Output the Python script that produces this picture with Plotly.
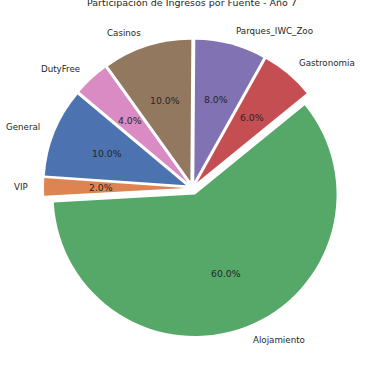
import math
import plotly.graph_objects as go

# ---- data ----
categories = ["General", "VIP", "Alojamiento", "Gastronomia", "Parques_IWC_Zoo", "Casinos", "DutyFree"]
values = [10, 2, 60, 6, 8, 10, 4]
colors = ["#4C72B0", "#DD8452", "#55A868", "#C44E52", "#8172B3", "#937860", "#DA8BC3"]
explode = [0.05] * len(values)
title_text = "Participación de Ingresos por Fuente - Año 7"

# ---- layout constants ----
W, H = 375, 366
start_angle = 140.0          # degrees, counter-clockwise from 3 o'clock (matplotlib style)
cx, cy, r = 192.5, 188.0, 141.5   # pixel centre and radius of the pie
label_dist, pct_dist = 1.1, 0.6
text_color = "#262626"
font_family = "DejaVu Sans"

total = sum(values)
max_pull = max(explode)
half = r * (1 + max_pull)
domain_x = [(cx - half) / W, (cx + half) / W]
domain_y = [1 - (cy + half) / H, 1 - (cy - half) / H]

# plotly (counterclockwise) puts the boundary between first and second slice at `rotation`
first_end = start_angle + 360.0 * values[0] / total
rotation = -(first_end - 90.0)

fig = go.Figure(go.Pie(
    labels=categories,
    values=values,
    marker=dict(colors=colors, line=dict(width=0)),
    pull=explode,
    sort=False,
    direction="counterclockwise",
    rotation=rotation,
    textinfo="none",
    hoverinfo="label+percent",
    domain=dict(x=domain_x, y=domain_y),
    showlegend=False,
))

annotations = []
cum = 0.0
for cat, v, e in zip(categories, values, explode):
    mid = math.radians(start_angle + 360.0 * (cum + v / 2.0) / total)
    cum += v
    dx, dy = math.cos(mid), -math.sin(mid)
    # outer label
    lx = cx + (e + label_dist) * r * dx
    ly = cy + (e + label_dist) * r * dy
    annotations.append(dict(
        x=lx / W, y=1 - ly / H, xref="paper", yref="paper",
        text=cat, showarrow=False,
        xanchor="left" if dx > 0 else "right", yanchor="middle",
        font=dict(family=font_family, size=8.7, color=text_color),
    ))
    # percentage label
    px = cx + (e + pct_dist) * r * dx
    py = cy + (e + pct_dist) * r * dy
    annotations.append(dict(
        x=px / W, y=1 - py / H, xref="paper", yref="paper",
        text=f"{100.0 * v / total:.1f}%", showarrow=False,
        xanchor="center", yanchor="middle",
        font=dict(family=font_family, size=9.3, color=text_color),
    ))

# title (partly clipped at the top, as in the reference)
annotations.append(dict(
    x=192 / W, y=1.0, xref="paper", yref="paper",
    text=title_text, showarrow=False, xanchor="center", yanchor="middle",
    yshift=-2,
    font=dict(family=font_family, size=9.5, color=text_color),
))

fig.update_layout(
    width=W, height=H,
    margin=dict(l=0, r=0, t=0, b=0),
    paper_bgcolor="white", plot_bgcolor="white",
    annotations=annotations,
)

fig.write_html("out.html", config={"displayModeBar": False},
               post_script="document.body.style.margin='0';")
